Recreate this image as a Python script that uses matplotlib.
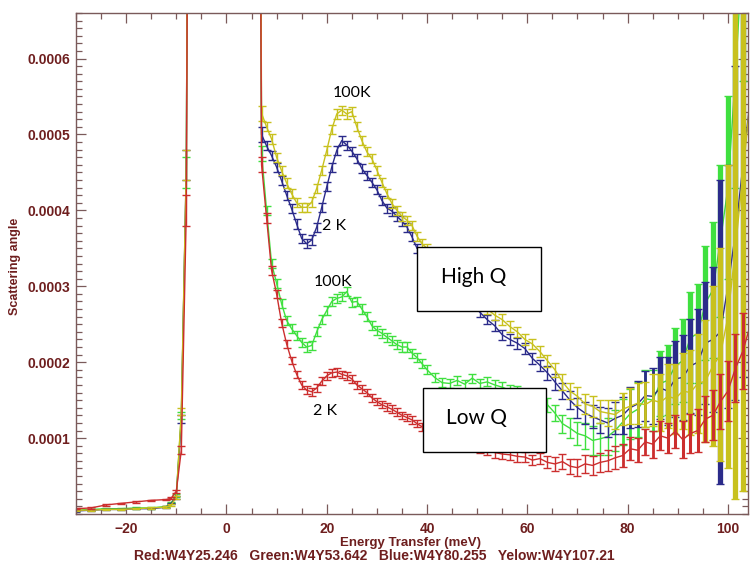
import matplotlib
matplotlib.use("Agg")
import numpy as np
import matplotlib.pyplot as plt
from matplotlib.patches import Rectangle
from matplotlib.ticker import MultipleLocator, FixedLocator

# energy bins (meV): left wing, elastic line + inelastic region, high energy tail
energy = ([-30, -27, -24, -21, -18, -15, -12, -11, -10, -9, -8, -7]
          + [6, 7, 8, 9, 10, 11, 12, 13, 14, 15, 16, 17, 18, 19, 20, 21, 22, 23,
             24, 25, 26, 27, 28, 29, 30, 31, 32, 33, 34, 35, 36, 37, 38, 39, 40]
          + [41.5, 43, 44.5, 46, 47.5, 49, 50.5, 52, 53.5, 55, 56.5, 58, 59.5, 61,
             62.5, 64, 65.5, 67, 68.5, 70, 71.5, 73, 74.5, 76, 77.5, 79, 80.5, 82,
             83.5, 85, 86.5, 88, 89.5, 91, 92.5, 94, 95.5, 97, 98.5, 100, 101.5,
             103, 104.5])

# intensities in units of 1e-4
red = ([0.07, 0.08, 0.12, 0.14, 0.16, 0.18, 0.19, 0.21, 0.30, 0.84, 4.0, 20],
       [20, 4.6, 3.9, 3.21, 2.90, 2.52, 2.24, 2.02, 1.84, 1.70, 1.63, 1.61, 1.66,
        1.75, 1.82, 1.86, 1.87, 1.84, 1.82, 1.78, 1.70, 1.65, 1.60, 1.53, 1.48,
        1.44, 1.41, 1.38, 1.34, 1.30, 1.27, 1.24, 1.19, 1.15, 1.11],
       [1.07, 1.03, 1.00, 0.96, 0.93, 0.90, 0.87, 0.84, 0.81, 0.79, 0.78, 0.76,
        0.75, 0.71, 0.73, 0.68, 0.66, 0.69, 0.63, 0.61, 0.66, 0.64, 0.68, 0.70,
        0.74, 0.77, 0.86, 0.84, 0.95, 0.92, 1.03, 1.00, 1.09, 0.98, 1.06, 1.10,
        1.25, 1.30, 1.48, 1.62, 1.92, 2.15, 2.50])
red_err = ([0.01, 0.01, 0.01, 0.01, 0.01, 0.01, 0.01, 0.01, 0.02, 0.05, 0.2, 1],
           [1, 0.1, 0.06, 0.06, 0.05, 0.05, 0.05, 0.05, 0.05, 0.05, 0.05, 0.05,
            0.05, 0.05, 0.05, 0.05, 0.05, 0.05, 0.05, 0.05, 0.05, 0.05, 0.05, 0.05,
            0.05, 0.05, 0.05, 0.05, 0.05, 0.05, 0.05, 0.05, 0.05, 0.05, 0.05],
           [0.06, 0.06, 0.06, 0.06, 0.06, 0.06, 0.06, 0.06, 0.07, 0.07, 0.07, 0.07,
            0.07, 0.07, 0.07, 0.08, 0.09, 0.10, 0.10, 0.11, 0.12, 0.12, 0.13, 0.14,
            0.15, 0.15, 0.15, 0.16, 0.17, 0.18, 0.19, 0.20, 0.22, 0.24, 0.26, 0.28,
            0.30, 0.33, 0.36, 0.40, 0.45, 0.50, 0.60])

green = ([0.05, 0.06, 0.07, 0.07, 0.08, 0.08, 0.10, 0.15, 0.25, 1.30, 4.5, 20],
         [20, 4.75, 4.0, 3.30, 3.04, 2.77, 2.55, 2.44, 2.35, 2.26, 2.20, 2.22, 2.40,
          2.56, 2.68, 2.80, 2.84, 2.86, 2.93, 2.79, 2.80, 2.70, 2.60, 2.48, 2.42,
          2.38, 2.33, 2.28, 2.23, 2.20, 2.20, 2.12, 2.06, 1.98, 1.90],
         [1.80, 1.73, 1.72, 1.76, 1.71, 1.79, 1.72, 1.74, 1.70, 1.67, 1.63, 1.61,
          1.56, 1.55, 1.49, 1.44, 1.33, 1.19, 1.13, 1.06, 1.03, 0.97, 0.99, 1.02,
          1.10, 1.21, 1.32, 1.38, 1.52, 1.50, 1.72, 1.76, 1.95, 2.02, 2.32, 2.38,
          2.78, 2.95, 3.60, 4.30, 5.80, 7.5, 9.0])
green_err = ([0.01, 0.01, 0.01, 0.01, 0.01, 0.01, 0.01, 0.01, 0.02, 0.05, 0.2, 1],
             [1, 0.1, 0.06, 0.06, 0.06, 0.06, 0.06, 0.06, 0.06, 0.06, 0.06, 0.06,
              0.06, 0.06, 0.06, 0.06, 0.06, 0.06, 0.06, 0.06, 0.06, 0.06, 0.06, 0.06,
              0.06, 0.06, 0.06, 0.06, 0.06, 0.06, 0.06, 0.06, 0.06, 0.06, 0.06],
             [0.06, 0.06, 0.06, 0.06, 0.06, 0.06, 0.06, 0.06, 0.07, 0.07, 0.07, 0.07,
              0.07, 0.07, 0.07, 0.09, 0.10, 0.12, 0.13, 0.15, 0.17, 0.19, 0.21, 0.24,
              0.27, 0.30, 0.33, 0.36, 0.38, 0.40, 0.43, 0.46, 0.50, 0.55, 0.60, 0.65,
              0.75, 0.90, 1.0, 1.2, 1.5, 1.8, 2.0])

blue = ([0.04, 0.05, 0.06, 0.06, 0.07, 0.07, 0.09, 0.14, 0.22, 1.25, 4.6, 20],
        [20, 5.0, 4.85, 4.72, 4.57, 4.39, 4.20, 4.02, 3.82, 3.63, 3.56, 3.61, 3.78,
         4.04, 4.31, 4.57, 4.79, 4.92, 4.86, 4.78, 4.68, 4.55, 4.46, 4.37, 4.27,
         4.13, 4.03, 3.99, 3.92, 3.86, 3.78, 3.65, 3.50, 3.45, 3.38],
        [3.30, 3.18, 3.06, 2.95, 2.85, 2.76, 2.66, 2.56, 2.48, 2.36, 2.30, 2.25,
         2.18, 2.05, 1.96, 1.86, 1.74, 1.62, 1.50, 1.40, 1.33, 1.28, 1.24, 1.20,
         1.26, 1.30, 1.40, 1.45, 1.56, 1.55, 1.66, 1.62, 1.78, 1.80, 1.95, 2.00,
         2.25, 2.30, 2.40, 3.00, 3.70, 4.60, 5.50])
blue_err = ([0.01, 0.01, 0.01, 0.01, 0.01, 0.01, 0.01, 0.01, 0.02, 0.05, 0.2, 1],
            [1, 0.1, 0.06, 0.06, 0.06, 0.06, 0.06, 0.06, 0.06, 0.06, 0.06, 0.06,
             0.06, 0.06, 0.06, 0.06, 0.06, 0.06, 0.06, 0.06, 0.06, 0.06, 0.06, 0.06,
             0.06, 0.06, 0.06, 0.06, 0.06, 0.06, 0.06, 0.06, 0.06, 0.06, 0.06],
            [0.06, 0.06, 0.06, 0.06, 0.06, 0.06, 0.06, 0.06, 0.07, 0.07, 0.07, 0.07,
             0.07, 0.07, 0.07, 0.09, 0.10, 0.11, 0.12, 0.13, 0.14, 0.15, 0.17, 0.19,
             0.21, 0.24, 0.27, 0.30, 0.33, 0.37, 0.41, 0.45, 0.50, 0.56, 0.62, 0.70,
             0.80, 0.95, 2.0, 1.6, 2.2, 2.8, 3.5])

yellow = ([0.05, 0.05, 0.06, 0.06, 0.07, 0.08, 0.09, 0.12, 0.22, 1.35, 4.6, 20],
          [20, 5.28, 5.10, 4.94, 4.70, 4.52, 4.36, 4.22, 4.10, 4.04, 4.04, 4.11,
           4.29, 4.53, 4.79, 5.07, 5.27, 5.32, 5.27, 5.30, 5.10, 4.92, 4.77, 4.68,
           4.53, 4.37, 4.22, 4.09, 4.00, 3.92, 3.87, 3.80, 3.66, 3.56, 3.50],
          [3.40, 3.30, 3.18, 3.06, 2.95, 2.86, 2.78, 2.70, 2.62, 2.56, 2.47, 2.40,
           2.30, 2.24, 2.14, 2.02, 1.90, 1.74, 1.62, 1.55, 1.45, 1.42, 1.35, 1.33,
           1.31, 1.38, 1.42, 1.46, 1.44, 1.50, 1.47, 1.55, 1.52, 1.62, 1.60, 1.72,
           1.75, 1.95, 2.10, 2.60, 3.50, 4.50, 5.50])
yellow_err = ([0.01, 0.01, 0.01, 0.01, 0.01, 0.01, 0.01, 0.01, 0.02, 0.05, 0.2, 1],
              [1, 0.1, 0.06, 0.06, 0.06, 0.06, 0.06, 0.06, 0.06, 0.06, 0.06, 0.06,
               0.06, 0.06, 0.06, 0.06, 0.06, 0.06, 0.06, 0.06, 0.06, 0.06, 0.06, 0.06,
               0.06, 0.06, 0.06, 0.06, 0.06, 0.06, 0.06, 0.06, 0.06, 0.06, 0.06],
              [0.06, 0.06, 0.06, 0.06, 0.06, 0.06, 0.06, 0.06, 0.07, 0.07, 0.07, 0.07,
               0.07, 0.07, 0.07, 0.08, 0.09, 0.10, 0.11, 0.12, 0.13, 0.14, 0.15, 0.17,
               0.19, 0.21, 0.24, 0.27, 0.30, 0.34, 0.38, 0.42, 0.46, 0.50, 0.56, 0.65,
               0.80, 1.05, 1.4, 2.0, 3.3, 4.2, 5.0])

x_ticks = [-20, 0, 20, 40, 60, 80, 100]
y_ticks = [0.0001, 0.0002, 0.0003, 0.0004, 0.0005, 0.0006]
caption = "Red:W4Y25.246   Green:W4Y53.642   Blue:W4Y80.255   Yelow:W4Y107.21"

AXIS_COL = "#7a5a5a"
TEXT_COL = "#6e1e1e"
FONT = "Liberation Sans"


def flat(parts):
    return np.array(parts[0] + parts[1] + parts[2]) * 1e-4


fig = plt.figure(figsize=(7.5, 5.62), dpi=100)
ax = fig.add_axes([76 / 750, 1 - 514 / 562, 672 / 750, 501 / 562])

e = np.array(energy)
mid = (e >= 78) & (e < 86)
tail = e >= 86
body = e < 78
# colour, error-bar width in the far tail
series = [
    (green, green_err, "#3fe03f", 3.8),
    (blue, blue_err, "#2b2b8a", 3.8),
    (yellow, yellow_err, "#c8c11e", 3.8),
    (red, red_err, "#cc2e2e", 2.2),
]
for vals, errs, col, tail_lw in series:
    y, dy = flat(vals), flat(errs)
    ax.plot(e, y, color=col, lw=1.0)
    # the noisy high-energy tail gets heavier error bars
    for m, lw in [(body, 1.0), (mid, 2.0), (tail, tail_lw)]:
        ax.errorbar(e[m], y[m], yerr=dy[m], fmt="none", ecolor=col,
                    elinewidth=lw, capsize=3, capthick=1.0)

ax.set_xlim(-30, 104)
ax.set_ylim(0, 0.00066)

ax.xaxis.set_major_locator(FixedLocator(x_ticks))
ax.xaxis.set_minor_locator(MultipleLocator(5))
ax.yaxis.set_major_locator(FixedLocator(y_ticks))
ax.yaxis.set_minor_locator(MultipleLocator(0.00001))
ax.set_yticklabels([f"{v:.4f}" for v in y_ticks])
ax.tick_params(which="both", direction="in", top=True, right=True,
               color=AXIS_COL, width=0.9)
ax.tick_params(which="major", length=7)
ax.tick_params(which="minor", length=4)
ax.tick_params(axis="x", pad=6)
ax.tick_params(axis="y", pad=4)
for lab in ax.get_xticklabels() + ax.get_yticklabels():
    lab.set_fontfamily(FONT)
    lab.set_fontweight("bold")
    lab.set_fontsize(10)
    lab.set_color(TEXT_COL)
for sp in ax.spines.values():
    sp.set_color(AXIS_COL)
    sp.set_linewidth(1.0)

fig.text(15 / 750, 1 - 266 / 562, "Scattering angle", rotation=90,
         ha="center", va="center", fontsize=9, fontweight="bold",
         color=TEXT_COL, family=FONT)
fig.text(410 / 750, 1 - 543 / 562, "Energy Transfer (meV)", ha="center",
         va="center", fontsize=9.5, fontweight="bold", color=TEXT_COL, family=FONT)
fig.text(374 / 750, 1 - 555.5 / 562, caption, ha="center", va="center",
         fontsize=10, fontweight="bold", color=TEXT_COL, family=FONT)

# temperature labels
for txt, px, py in [("100K", 352, 93), ("2 K", 334, 226),
                    ("100K", 333, 282), ("2 K", 325, 411)]:
    fig.text(px / 750, 1 - py / 562, txt, ha="center", va="center",
             fontsize=11.5, family="Lato", color="black")

# boxed Q labels
for txt, x0, y0, x1, y1, tx, ty in [("High Q", 417, 247, 541, 311, 474, 277),
                                    ("Low Q", 423, 388, 546, 452, 477, 418)]:
    fig.add_artist(Rectangle((x0 / 750, 1 - y1 / 562), (x1 - x0) / 750,
                             (y1 - y0) / 562, transform=fig.transFigure,
                             facecolor="white", edgecolor="black", lw=1.0,
                             zorder=5))
    fig.text(tx / 750, 1 - ty / 562, txt, ha="center", va="center",
             fontsize=15, family="Lato", color="black", zorder=6)

fig.savefig("out.png", dpi=100)
